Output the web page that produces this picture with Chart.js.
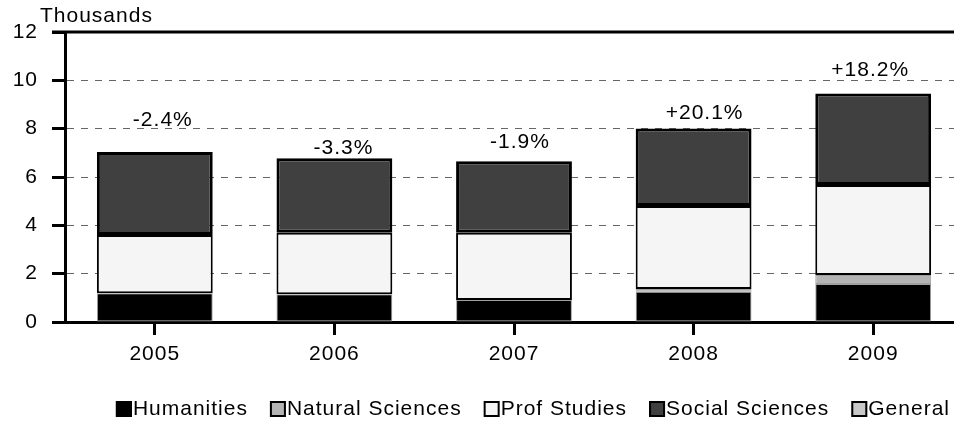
<!DOCTYPE html>
<html>
<head>
<meta charset="utf-8">
<script src="https://cdn.jsdelivr.net/npm/chart.js@4.4.1/dist/chart.umd.min.js"></script>
<style>
  html, body { margin: 0; padding: 0; overflow: hidden; background: #fff; }
</style>
</head>
<body>
<canvas id="chart" width="963" height="423"></canvas>
<script>
// data (thousands)
var years = ['2005', '2006', '2007', '2008', '2009'];
var humanities = [1.19, 1.15, 0.91, 1.25, 1.57];
var naturalSciences = [0, 0, 0, 0.12, 0.37];
var profStudies = [2.41, 2.54, 2.78, 3.43, 3.73];
var socialSciences = [3.43, 3.09, 2.96, 3.21, 3.79];
var general = [0, 0, 0, 0, 0];
var changeLabels = ['-2.4%', '-3.3%', '-1.9%', '+20.1%', '+18.2%'];
var yTicks = [0, 2, 4, 6, 8, 10, 12];

var FONT = '"Liberation Sans", Arial, sans-serif';
var SPACING = '1px';
Chart.defaults.font.family = FONT;
Chart.defaults.color = '#000';

function widen(chart) {
  chart.ctx.letterSpacing = SPACING;
}

var spacingPlugin = {
  id: 'spacing',
  beforeUpdate: widen,
  beforeLayout: widen,
  beforeDraw: widen
};

// percent labels above bars, nudged like the original
var changePlugin = {
  id: 'changeLabels',
  afterDatasetsDraw: function (chart, args, opts) {
    var ctx = chart.ctx;
    var top = chart.getDatasetMeta(3); // social sciences is the top visible segment
    ctx.save();
    ctx.letterSpacing = SPACING;
    ctx.font = '21px ' + FONT;
    ctx.fillStyle = '#000';
    ctx.textAlign = 'center';
    ctx.textBaseline = 'middle';
    top.data.forEach(function (bar, i) {
      ctx.fillText(changeLabels[i], bar.x + opts.dx[i], bar.y - opts.lift[i]);
    });
    ctx.restore();
  }
};

// solid top frame line + "Thousands" unit text
var framePlugin = {
  id: 'frame',
  afterDraw: function (chart) {
    var ctx = chart.ctx, a = chart.chartArea;
    ctx.save();
    ctx.strokeStyle = '#000';
    ctx.lineWidth = 3;
    ctx.beginPath();
    ctx.moveTo(a.left - 13, a.top);
    ctx.lineTo(a.right, a.top);
    ctx.stroke();
    ctx.letterSpacing = SPACING;
    ctx.font = '21px ' + FONT;
    ctx.fillStyle = '#000';
    ctx.textBaseline = 'middle';
    ctx.fillText('Thousands', a.left - 25, a.top - 16);
    ctx.restore();
  }
};

// legend drawn by hand so boxes sit tight against the text
var legendPlugin = {
  id: 'boxLegend',
  afterDraw: function (chart) {
    var ctx = chart.ctx;
    var sets = chart.data.datasets;
    ctx.save();
    ctx.letterSpacing = SPACING;
    ctx.font = '21px ' + FONT;
    ctx.textBaseline = 'middle';
    var gap = 22, bw = 16, bh = 16, y = 409;
    var total = 0;
    sets.forEach(function (ds, i) {
      total += bw + 1 + ctx.measureText(ds.label).width + (i < sets.length - 1 ? gap : 0);
    });
    var x = 950 - total;
    sets.forEach(function (ds) {
      ctx.fillStyle = ds.backgroundColor;
      ctx.fillRect(x, y - bh / 2, bw, bh);
      ctx.strokeStyle = '#000';
      ctx.lineWidth = 2;
      ctx.strokeRect(x + 1, y - bh / 2 + 1, bw - 2, bh - 2);
      ctx.fillStyle = '#000';
      ctx.fillText(ds.label, x + bw + 1, y);
      x += bw + 1 + ctx.measureText(ds.label).width + gap;
    });
    ctx.restore();
  }
};

var ctx = document.getElementById('chart').getContext('2d');
var myChart = new Chart(ctx, {
  type: 'bar',
  data: {
    labels: years,
    datasets: [
      { label: 'Humanities', data: humanities, backgroundColor: '#000000', borderColor: '#a0a0a0', borderWidth: 1 },
      { label: 'Natural Sciences', data: naturalSciences, backgroundColor: '#b4b4b4', borderColor: '#a0a0a0', borderWidth: 1 },
      { label: 'Prof Studies', data: profStudies, backgroundColor: '#f5f5f5', borderColor: '#000', borderWidth: 2 },
      { label: 'Social Sciences', data: socialSciences, backgroundColor: '#404040', borderColor: '#000', borderWidth: 3 },
      { label: 'General', data: general, backgroundColor: '#c8c8c8', borderColor: '#a0a0a0', borderWidth: 0 }
    ]
  },
  options: {
    responsive: false,
    animation: false,
    layout: { padding: { top: 32, bottom: 53, left: 0, right: 0 } },
    datasets: { bar: { barPercentage: 0.645, categoryPercentage: 1, borderSkipped: false } },
    plugins: {
      legend: { display: false },
      tooltip: { enabled: false },
      changeLabels: { lift: [32, 10, 19, 15, 23], dx: [8, 9, 6, 11, -3] }
    },
    scales: {
      x: {
        stacked: true,
        grid: { offset: false, drawOnChartArea: false, tickLength: 13, tickWidth: 3, tickColor: '#000' },
        border: { color: '#000', width: 3 },
        ticks: { font: { size: 21 }, padding: 7 },
        afterFit: function (axis) { axis.height = 48; }
      },
      y: {
        stacked: true,
        min: 0,
        max: 12,
        afterBuildTicks: function (axis) { axis.ticks = yTicks.map(function (v) { return { value: v }; }); },
        grid: { color: '#666666', lineWidth: 1, tickLength: 13, tickWidth: 3, tickColor: '#000', tickBorderDash: [] },
        border: { color: '#000', width: 3, dash: [7, 7] },
        ticks: { font: { size: 21 }, padding: 14 },
        afterFit: function (axis) { axis.width = 65; }
      }
    }
  },
  plugins: [spacingPlugin, changePlugin, framePlugin, legendPlugin]
});
</script>
</body>
</html>
